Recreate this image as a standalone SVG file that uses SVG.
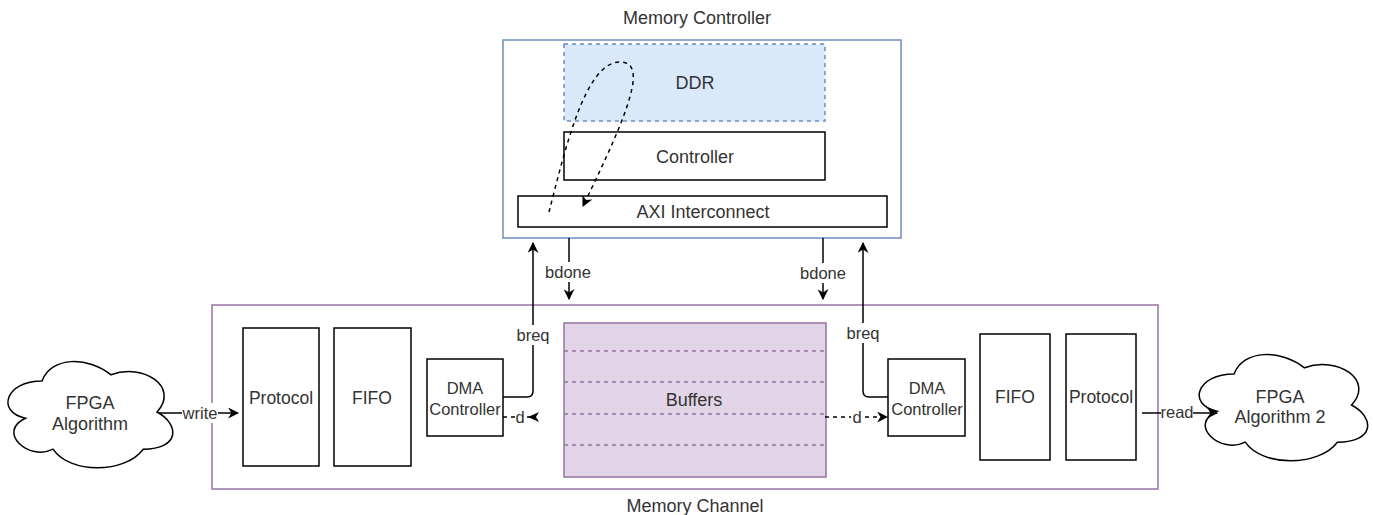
<svg xmlns="http://www.w3.org/2000/svg" width="1373" height="515" viewBox="0 0 1373 515">
<style>
text{font-family:"Liberation Sans",Arial,sans-serif;fill:#333;text-anchor:middle;dominant-baseline:central}
.t18{font-size:18px}
.t17{font-size:17.5px}
.t16{font-size:16.5px}
.box{fill:#fff;stroke:#000;stroke-width:1.5}
.mc{fill:#fff;stroke:#6c8ebf;stroke-width:1.5}
.ch{fill:#fff;stroke:#9673a6;stroke-width:1.5}
.ddr{fill:#dae8fc;stroke:#6c8ebf;stroke-width:1.5;stroke-dasharray:4 4}
.buf{fill:#e1d5e7;stroke:#9673a6;stroke-width:1.5}
.bufl{fill:none;stroke:#9673a6;stroke-width:1.5;stroke-dasharray:4 4}
.ln{fill:none;stroke:#000;stroke-width:1.5}
.dl{fill:none;stroke:#000;stroke-width:1.5;stroke-dasharray:4 4}
.lbl{fill:#fff}
</style>
<defs>
<marker id="arr" viewBox="0 0 10 10" refX="9" refY="5" markerWidth="7" markerHeight="7" markerUnits="userSpaceOnUse" orient="auto">
<path d="M0,0 L10,5 L0,10 L3,5 Z" fill="#000"/>
</marker>
<marker id="arrs" viewBox="0 0 10 10" refX="9" refY="5" markerWidth="11" markerHeight="11" markerUnits="userSpaceOnUse" orient="auto">
<path d="M0,0 L10,5 L0,10 L3,5 Z" fill="#000"/>
</marker>
</defs>

<g id="memory-controller">
<rect class="mc" x="503" y="40" width="398" height="198"/>
<text class="t18" x="697" y="18">Memory Controller</text>
</g>
<g id="ddr">
<rect class="ddr" x="564" y="44" width="261" height="77"/>
<text class="t18" x="695" y="83">DDR</text>
</g>
<g id="controller">
<rect class="box" x="564" y="132" width="261" height="48"/>
<text class="t18" x="695" y="157">Controller</text>
</g>
<g id="axi">
<rect class="box" x="518" y="196" width="369" height="31"/>
<text class="t18" x="703" y="212">AXI Interconnect</text>
</g>

<g id="memory-channel">
<rect class="ch" x="212" y="305" width="946" height="184"/>
<text class="t18" x="695" y="506">Memory Channel</text>
</g>
<g id="protocol-left">
<rect class="box" x="243" y="328" width="76" height="138"/>
<text class="t17" x="281" y="398">Protocol</text>
</g>
<g id="fifo-left">
<rect class="box" x="334" y="328" width="77" height="138"/>
<text class="t17" x="372" y="398">FIFO</text>
</g>
<g id="dma-left">
<rect class="box" x="427" y="359" width="76" height="77"/>
<text class="t16" x="465" y="388">DMA</text>
<text class="t16" x="465" y="409">Controller</text>
</g>
<g id="buffers">
<rect class="buf" x="564" y="323" width="262" height="154"/>
<line class="bufl" x1="564" y1="351" x2="826" y2="351"/>
<line class="bufl" x1="564" y1="382" x2="826" y2="382"/>
<line class="bufl" x1="564" y1="414" x2="826" y2="414"/>
<line class="bufl" x1="564" y1="445" x2="826" y2="445"/>
<text class="t18" x="694" y="400">Buffers</text>
</g>
<g id="dma-right">
<rect class="box" x="888" y="359" width="77" height="77"/>
<text class="t16" x="927" y="388">DMA</text>
<text class="t16" x="927" y="409">Controller</text>
</g>
<g id="fifo-right">
<rect class="box" x="980" y="334" width="70" height="126"/>
<text class="t17" x="1015" y="397">FIFO</text>
</g>
<g id="protocol-right">
<rect class="box" x="1066" y="334" width="70" height="126"/>
<text class="t17" x="1101" y="397">Protocol</text>
</g>
<g id="fpga-left">
<path class="box" transform="translate(-4,350) scale(184,124)" vector-effect="non-scaling-stroke" d="M0.25,0.25 C0.05,0.25 0,0.5 0.16,0.55 C0,0.66 0.18,0.9 0.31,0.8 C0.4,1 0.7,1 0.8,0.8 C1,0.8 1,0.6 0.875,0.5 C1,0.3 0.8,0.1 0.625,0.2 C0.5,0.05 0.3,0.05 0.25,0.25 Z"/>
<text class="t18" x="90" y="403">FPGA</text>
<text class="t18" x="90" y="424">Algorithm</text>
</g>
<g id="fpga-right">
<path class="box" transform="translate(1187,343) scale(188,124)" vector-effect="non-scaling-stroke" d="M0.25,0.25 C0.05,0.25 0,0.5 0.16,0.55 C0,0.66 0.18,0.9 0.31,0.8 C0.4,1 0.7,1 0.8,0.8 C1,0.8 1,0.6 0.875,0.5 C1,0.3 0.8,0.1 0.625,0.2 C0.5,0.05 0.3,0.05 0.25,0.25 Z"/>
<text class="t18" x="1280" y="397">FPGA</text>
<text class="t18" x="1280" y="417">Algorithm 2</text>
</g>

<g id="connectors">
<path class="dl" d="M549 212 C565 150 585 62 620 62 C648 62 630 110 583 206" marker-end="url(#arrs)"/>
<path class="ln" d="M503 397 L527 397 Q533 397 533 391 L533 243" marker-end="url(#arrs)"/>
<rect class="lbl" x="514" y="325" width="38" height="20"/>
<text class="t16" x="533" y="335">breq</text>
<path class="ln" d="M569 238 L569 299" marker-end="url(#arrs)"/>
<rect class="lbl" x="546" y="262" width="45" height="20"/>
<text class="t16" x="568" y="272">bdone</text>
<path class="ln" d="M823 238 L823 299" marker-end="url(#arrs)"/>
<rect class="lbl" x="801" y="263" width="45" height="20"/>
<text class="t16" x="823" y="273">bdone</text>
<path class="ln" d="M888 397 L869 397 Q863 397 863 391 L863 243" marker-end="url(#arrs)"/>
<rect class="lbl" x="844" y="323" width="38" height="20"/>
<text class="t16" x="863" y="333">breq</text>
<path class="ln" d="M159 413 L238 413" marker-end="url(#arrs)"/>
<rect class="lbl" x="182" y="403" width="36" height="20"/>
<text class="t16" x="200" y="413">write</text>
<path class="ln" d="M1142 413 L1217 413" marker-end="url(#arrs)"/>
<rect class="lbl" x="1161" y="403" width="32" height="20"/>
<text class="t16" x="1177" y="412">read</text>
<path class="dl" d="M503 417 L530 417"/>
<rect class="lbl" x="515" y="408" width="11" height="18"/>
<text class="t16" x="520" y="417">d</text>
<path d="M528 417 L539 412 L536 417 L539 422 Z" fill="#000"/>
<path class="dl" d="M825 417 L887 417" marker-end="url(#arrs)"/>
<rect class="lbl" x="851" y="408" width="12" height="18"/>
<text class="t16" x="857" y="417">d</text>
</g>
</svg>
